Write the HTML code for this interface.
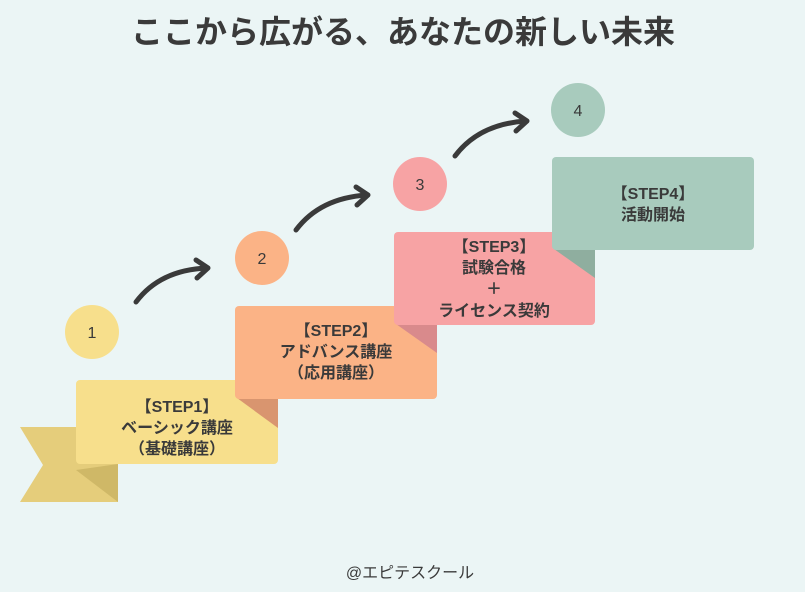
<!DOCTYPE html>
<html><head><meta charset="utf-8"><style>
body{margin:0;width:805px;height:592px;background:#ebf5f5;overflow:hidden;font-family:"Liberation Sans","Noto Sans CJK JP",sans-serif;color:#3a3a3a}
</style></head><body>
<svg width="805" height="592" viewBox="0 0 805 592" xmlns="http://www.w3.org/2000/svg" style="position:absolute;left:0;top:0">
<text x="403" y="43" text-anchor="middle" font-size="32" font-weight="bold" fill="#3a3a3a" font-family="Liberation Sans,Noto Sans CJK JP,sans-serif">ここから広がる、あなたの新しい未来</text>
<polygon points="20,427 118,427 118,502 20,502 43,465" fill="#e5cd7b"/>
<polygon points="76,470 118,464 118,502" fill="#cfb867"/>
<rect x="76" y="380" width="202" height="84" rx="4" fill="#f7df8c"/>
<polygon points="237,398 278,398 278,428" fill="#d9956f"/>
<rect x="235" y="306" width="202" height="93" rx="4" fill="#fbb386"/>
<polygon points="396,324 437,324 437,353" fill="#d98a8c"/>
<rect x="394" y="232" width="201" height="93" rx="4" fill="#f7a3a4"/>
<polygon points="554,249 595,249 595,278" fill="#8fae9f"/>
<rect x="552" y="157" width="202" height="93" rx="4" fill="#a8cbbd"/>
<circle cx="92" cy="332" r="27" fill="#f7df8c"/>
<circle cx="262" cy="258" r="27" fill="#fbb386"/>
<circle cx="420" cy="184" r="27" fill="#f7a3a4"/>
<circle cx="578" cy="110" r="27" fill="#a8cbbd"/>
<g font-size="16" fill="#3a3a3a" text-anchor="middle" font-family="Liberation Sans,sans-serif">
<text x="92" y="338">1</text><text x="262" y="264">2</text><text x="420" y="190">3</text><text x="578" y="116">4</text>
</g>
<g fill="none" stroke="#3a3a3a" stroke-width="5" stroke-linecap="round" stroke-linejoin="round">
<path d="M136,302 Q160,270 207,268"/><path d="M196,260 L208,268 L197,278"/>
<path d="M296,230 Q320,198 367,195"/><path d="M356,187 L368,195 L357,205"/>
<path d="M455,156 Q479,124 526,121"/><path d="M515,113 L527,121 L516,131"/>
</g>
<g font-size="16" font-weight="bold" fill="#3a3a3a" text-anchor="middle" font-family="Liberation Sans,Noto Sans CJK JP,sans-serif">
<text x="177" y="412">【STEP1】</text><text x="177" y="433">ベーシック講座</text><text x="177" y="454">（基礎講座）</text>
<text x="336" y="336">【STEP2】</text><text x="336" y="357">アドバンス講座</text><text x="336" y="378">（応用講座）</text>
<text x="494" y="252">【STEP3】</text><text x="494" y="273">試験合格</text><text x="494" y="294">＋</text><text x="494" y="316">ライセンス契約</text>
<text x="653" y="199">【STEP4】</text><text x="653" y="220">活動開始</text>
</g>
<text x="410" y="578" text-anchor="middle" font-size="16" fill="#3a3a3a" font-family="Liberation Sans,Noto Sans CJK JP,sans-serif">@エピテスクール</text>
</svg>
</body></html>
